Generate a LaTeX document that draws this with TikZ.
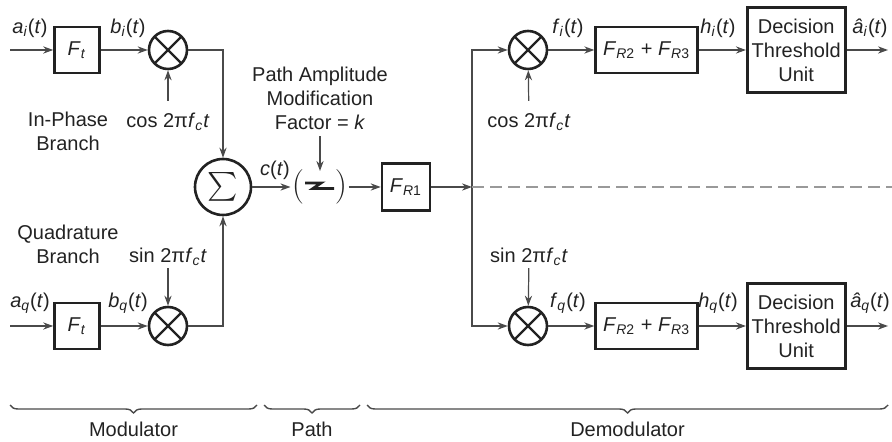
\documentclass[tikz,border=0pt]{standalone}
\usepackage{amsmath}
\usepackage{fontspec}
\setmainfont{Liberation Sans}
\usetikzlibrary{positioning,arrows.meta,decorations.pathreplacing}
\definecolor{wireGray}{HTML}{4A4A4A}
\definecolor{inkDark}{HTML}{222222}
\newcommand{\sgnl}[2]{\textit{#1}\textsubscript{\textit{#2}}(\textit{t})}
\newcommand{\carr}[1]{#1 2π\textit{f}\textsubscript{\textit{c}}\textit{t}}

\begin{document}
\begin{tikzpicture}[x=0.5pt, y=-0.5pt, inkDark, >={Stealth[length=5pt,width=3.6pt]},
          wire/.style={draw=wireGray, line width=0.6pt},
          blk/.style={draw, line width=1.3pt, inner sep=1pt, minimum width=22.5pt, minimum height=23pt},
          mix/.style={draw, circle, line width=1.3pt, minimum size=19pt, inner sep=0pt,
            path picture={\draw[line width=1.2pt] (path picture bounding box.north west) -- (path picture bounding box.south east)
              (path picture bounding box.north east) -- (path picture bounding box.south west);}},
          sumnode/.style={draw, circle, line width=1.3pt, minimum size=28pt, inner sep=0pt},
          lbl/.style={inner sep=1pt},
          par/.style={inner sep=0.5pt, font=\LARGE},
          dashln/.style={draw=gray!80, line width=0.6pt, dash pattern=on 6pt off 3pt},
          brc/.style={draw=wireGray, line width=0.7pt, decorate, decoration={brace, mirror, amplitude=4pt}}]
        \useasboundingbox (0,0) rectangle (892,442);
        \coordinate (inI) at (10,50);
        \coordinate (inQ) at (10,326);
        \node[blk] (FtI) at (77,50) {\textit{F}\textsubscript{\textit{t}}};
        \node[mix] (mulI) at (168,50) {};
        \node[blk] (FtQ) at (77,326) {\textit{F}\textsubscript{\textit{t}}};
        \node[mix] (mulQ) at (168,326) {};
        \node[sumnode] (sum) at (223,187) {\Large$\sum$};
        \node[lbl] (aiLbl) at (30,28) {\sgnl{a}{i}};
        \node[lbl] (biLbl) at (128,28) {\sgnl{b}{i}};
        \node[lbl] (aqLbl) at (30,303) {\sgnl{a}{q}};
        \node[lbl] (bqLbl) at (128,303) {\sgnl{b}{q}};
        \node[lbl] (cosI) at (168,122) {\carr{cos}};
        \node[lbl] (sinQ) at (168,257) {\carr{sin}};
        \node[align=center] (inPh) at (68,131) {In-Phase\\Branch};
        \node[align=center] (quad) at (68,244) {Quadrature\\Branch};
        \draw[wire,->] (inI) -- (FtI);
        \draw[wire,->] (FtI) -- (mulI);
        \draw[wire,->,shorten <=5pt] (cosI) -- (mulI);
        \draw[wire,->] (mulI) -| (sum);
        \draw[wire,->] (inQ) -- (FtQ);
        \draw[wire,->] (FtQ) -- (mulQ);
        \draw[wire,->] (sinQ) -- (mulQ);
        \draw[wire,->] (mulQ) -| (sum);
        \node[lbl] (ctLbl) at (275,170) {\textit{c}(\textit{t})};
        \node[par] (lpar) at (298,187) {$($};
        \node[par] (rpar) at (341,187) {$)$};
        \draw[line width=1.4pt] (305,183) -- (321,183) -- (313,188.5) -- (334,188.5);
        \node[align=center] (pamf) at (320,98) {Path Amplitude\\Modification\\Factor = \textit{k}};
        \coordinate (kin) at (320,171);
        \draw[wire,->] (pamf) -- (kin);
        \node[blk, minimum width=24pt, minimum height=23.5pt] (FR1) at (406,187) {\textit{F}\textsubscript{\textit{R}1}};
        \draw[wire,->] (sum) -- (lpar);
        \draw[wire,->] (rpar) -- (FR1);
        \coordinate (split) at (472,187);
        \coordinate (dashEnd) at (892,187);
        \node[mix] (mulA) at (528,50) {};
        \node[blk, minimum width=51pt, right=23pt of mulA] (RA) {\textit{F}\textsubscript{\textit{R}2} + \textit{F}\textsubscript{\textit{R}3}};
        \node[blk, minimum width=49pt, minimum height=42.5pt, align=center, right=23.5pt of RA] (DTA) {Decision\\Threshold\\Unit};
        \node[mix] (mulB) at (528,326) {};
        \node[blk, minimum width=51pt, right=23pt of mulB] (RB) {\textit{F}\textsubscript{\textit{R}2} + \textit{F}\textsubscript{\textit{R}3}};
        \node[blk, minimum width=49pt, minimum height=42.5pt, align=center, right=23.5pt of RB] (DTB) {Decision\\Threshold\\Unit};
        \coordinate (outA) at (888,50);
        \coordinate (outB) at (888,326);
        \node[lbl] (cosA) at (529,122) {\carr{cos}};
        \node[lbl] (sinB) at (529,257) {\carr{sin}};
        \node[lbl] (fiLbl) at (568,28) {\sgnl{f}{i}};
        \node[lbl] (hiLbl) at (718,28) {\sgnl{h}{i}};
        \node[lbl] (aiHat) at (870,28) {\sgnl{â}{i}};
        \node[lbl] (fqLbl) at (568,303) {\sgnl{f}{q}};
        \node[lbl] (hqLbl) at (718,303) {\sgnl{h}{q}};
        \node[lbl] (aqHat) at (870,303) {\sgnl{â}{q}};
        \draw[wire,->] (FR1) -- (split);
        \draw[wire,->] (split) |- (mulA);
        \draw[wire,->] (split) |- (mulB);
        \draw[dashln] (split) -- (dashEnd);
        \draw[wire,->,shorten <=5pt] (cosA) -- (mulA);
        \draw[wire,->] (sinB) -- (mulB);
        \draw[wire,->] (mulA) -- (RA); \draw[wire,->] (RA) -- (DTA); \draw[wire,->] (DTA) -- (outA);
        \draw[wire,->] (mulB) -- (RB); \draw[wire,->] (RB) -- (DTB); \draw[wire,->] (DTB) -- (outB);
        \coordinate (bModL) at (10,405); \coordinate (bModR) at (257,405);
        \coordinate (bPathL) at (264,405); \coordinate (bPathR) at (360,405);
        \coordinate (bDemL) at (367,405); \coordinate (bDemR) at (888,405);
        \draw[brc] (bModL) -- (bModR) node[midway, below=5pt] {Modulator};
        \draw[brc] (bPathL) -- (bPathR) node[midway, below=5pt] {Path};
        \draw[brc] (bDemL) -- (bDemR) node[midway, below=5pt] {Demodulator};
      \end{tikzpicture}
\end{document}
